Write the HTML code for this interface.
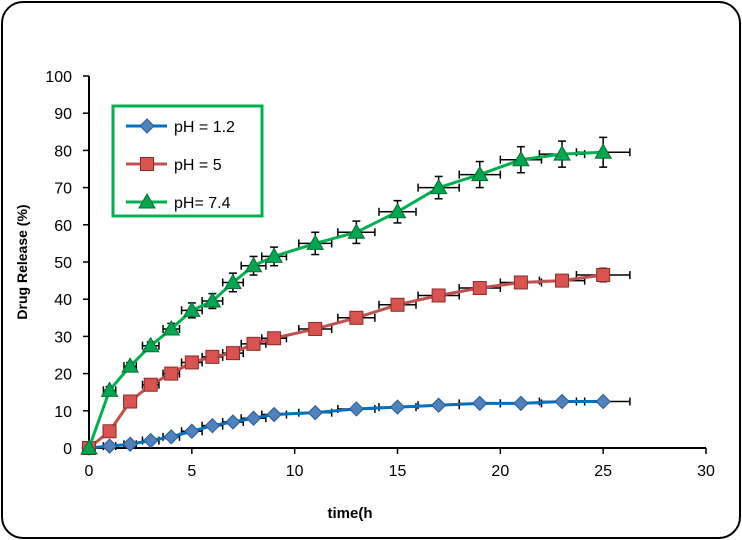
<!DOCTYPE html>
<html><head><meta charset="utf-8"><style>
body{margin:0;background:#fff;}
#frame{position:absolute;left:1px;top:1px;width:736px;height:534px;border:2px solid #000;border-radius:22px;}
svg{position:absolute;left:0;top:0;font-family:"Liberation Sans",sans-serif;}
</style></head><body>
<div id="frame"></div>
<svg id="c" width="742" height="540"></svg>
<script>
const times=[0,1,2,3,4,5,6,7,8,9,11,13,15,17,19,21,23,25];
const ph12=[0,0.5,1,2,3,4.5,6,7,8,9,9.5,10.5,11,11.5,12,12,12.5,12.5];
const ph5=[0,4.5,12.5,17,20,23,24.5,25.5,28,29.5,32,35,38.5,41,43,44.5,45,46.5];
const ph74=[0,15.5,22,27.5,32,37,39.5,44.5,49,51.5,55,58,63.5,70,73.5,77.5,79,79.5];
const errY74=[0,1,1,1,1.5,2,2,2.5,2.5,2.5,3,3,3,3,3.5,3.5,3.5,4];
const errY5=[0,0.5,0.5,0.5,0.5,0.5,0.5,0.8,1,1,1,1.5,1.5,1.5,1.5,1.5,1.5,1.8];
const errY12=[0,0,0,0,0,0,0,0,0,0,0,0,0,0,0,0,0,0];
const errX=[0,0.3,0.3,0.4,0.4,0.5,0.5,0.5,0.6,0.6,0.8,0.9,0.9,1,1,1,1.1,1.3];
const xTicks=[0,5,10,15,20,25,30];
const yTicks=[0,10,20,30,40,50,60,70,80,90,100];
const X=v=>89+v*(706-89)/30, Y=v=>448-v*(448-76)/100;
const svg=document.getElementById('c');
const NS='http://www.w3.org/2000/svg';
function mk(t,a,p){const e=document.createElementNS(NS,t);for(const k in a)e.setAttribute(k,a[k]);(p||svg).appendChild(e);return e;}
let e;
e=mk('line',{x1:89,y1:76,x2:89,y2:448,stroke:'#000','stroke-width':2});


e=mk('line',{x1:89,y1:448,x2:706,y2:448,stroke:'#000','stroke-width':2});


yTicks.forEach(v=>{
 mk('line',{x1:83,y1:Y(v),x2:89,y2:Y(v),stroke:'#000','stroke-width':1.5});
 e=mk('text',{x:72,y:Y(v)+6,'text-anchor':'end','font-size':16});e.textContent=v;
 
 
});
xTicks.forEach(v=>{
 mk('line',{x1:X(v),y1:448,x2:X(v),y2:454,stroke:'#000','stroke-width':1.5});
 e=mk('text',{x:X(v),y:476,'text-anchor':'middle','font-size':16});e.textContent=v;
 
 
});
e=mk('text',{x:350,y:518,'text-anchor':'middle','font-size':15,'font-weight':'bold'});e.textContent='time(h';


e=mk('text',{x:0,y:0,'text-anchor':'middle','font-size':14,'font-weight':'bold',transform:'translate(27,262) rotate(-90)'});e.textContent='Drug Release (%)';


function marker(type,x,y,g,col){
 if(type==='d')return mk('polygon',{points:`${x},${y-7} ${x+7},${y} ${x},${y+7} ${x-7},${y}`,fill:col,stroke:'#2c5a8f','stroke-width':1},g);
 if(type==='s')return mk('rect',{x:x-6.5,y:y-6.5,width:13,height:13,fill:col,stroke:'#8c2b28','stroke-width':1},g);
 return mk('polygon',{points:`${x},${y-8} ${x+8},${y+6} ${x-8},${y+6}`,fill:col,stroke:'#0a6d33','stroke-width':1},g);
}
function series(name,vals,ey,line,fill,type){
 const g=mk('g',{});
 
 
 times.forEach((t,i)=>{
  const x=X(t),y=Y(vals[i]);
  if(errX[i]>0){const x1=X(t-errX[i]),x2=X(t+errX[i]);
   mk('line',{x1:x1,y1:y,x2:x2,y2:y,stroke:'#000','stroke-width':1.5},g);
   mk('line',{x1:x1,y1:y-4,x2:x1,y2:y+4,stroke:'#000','stroke-width':1.5},g);
   mk('line',{x1:x2,y1:y-4,x2:x2,y2:y+4,stroke:'#000','stroke-width':1.5},g);}
  if(ey[i]>0){const y1=Y(vals[i]+ey[i]),y2=Y(vals[i]-ey[i]);
   mk('line',{x1:x,y1:y1,x2:x,y2:y2,stroke:'#000','stroke-width':1.5},g);
   mk('line',{x1:x-4,y1:y1,x2:x+4,y2:y1,stroke:'#000','stroke-width':1.5},g);
   mk('line',{x1:x-4,y1:y2,x2:x+4,y2:y2,stroke:'#000','stroke-width':1.5},g);}
 });
 mk('polyline',{points:times.map((t,i)=>X(t)+','+Y(vals[i])).join(' '),fill:'none',stroke:line,'stroke-width':3},g);
 times.forEach((t,i)=>{const m=marker(type,X(t),Y(vals[i]),g,fill);
  
  });
}
series('series-ph-1-2',ph12,errY12,'#0070c0','#4f81bd','d');
series('series-ph-5',ph5,errY5,'#c0504d','#d9534f','s');
series('series-ph-7-4',ph74,errY74,'#00b050','#00a650','t');
const lg=mk('g',{});


mk('rect',{x:113,y:106,width:149,height:110,fill:'#fff',stroke:'#00b050','stroke-width':3},lg);
[['pH = 1.2','#0070c0','#4f81bd','d'],['pH = 5','#c0504d','#d9534f','s'],['pH= 7.4','#00b050','#00a650','t']].forEach((r,i)=>{
 const y=126+i*38;
 const en=mk('g',{},lg);
 
 
 mk('line',{x1:126,y1:y,x2:167,y2:y,stroke:r[1],'stroke-width':3},en);
 marker(r[3],147,y,en,r[2]);
 const t=mk('text',{x:174,y:y+6,'font-size':16},en);t.textContent=r[0];
});
</script>
</body></html>
